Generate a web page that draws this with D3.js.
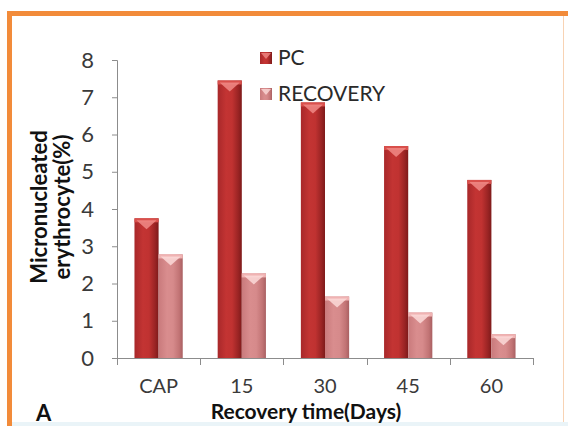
<!DOCTYPE html>
<html><head><meta charset="utf-8">
<script src="https://cdn.jsdelivr.net/npm/d3@7"></script>
<style>body{margin:0;background:#fff}svg{display:block}</style>
</head><body>
<script>
const categories = ["CAP", "15", "30", "45", "60"];
const seriesNames = ["PC", "RECOVERY"];
const pcValues = [3.75, 7.45, 6.86, 5.69, 4.78];
const recoveryValues = [2.78, 2.27, 1.65, 1.22, 0.64];
const yTicks = [0, 1, 2, 3, 4, 5, 6, 7, 8];

const W = 568, H = 426;
const svg = d3.select("body").append("svg").attr("width", W).attr("height", H);
const FONT = "Lato, 'Liberation Sans', sans-serif";

// frame
svg.append("rect").attr("x", 0).attr("y", 0).attr("width", W).attr("height", H).attr("fill", "#fff");
svg.append("rect").attr("x", 7).attr("y", 422).attr("width", W - 7).attr("height", 4).attr("fill", "#eaf4f8");
svg.append("rect").attr("x", 7).attr("y", 11).attr("width", W - 7).attr("height", 5).attr("fill", "#f28b3a");
svg.append("rect").attr("x", 7).attr("y", 11).attr("width", 5).attr("height", H - 11).attr("fill", "#f28b3a");
svg.append("line").attr("x1", 563.5).attr("x2", 563.5).attr("y1", 16).attr("y2", 422).attr("stroke", "#f8d3b4").attr("stroke-width", 1);

const x0 = d3.scaleBand().domain(categories).range([117, 533]).paddingInner(0.42).paddingOuter(0.21);
const x1 = d3.scaleBand().domain(seriesNames).range([0, x0.bandwidth()]);
const y = d3.scaleLinear().domain([0, 8]).range([358, 60]);

const defs = svg.append("defs");
function grad(id, stops) {
  const g = defs.append("linearGradient").attr("id", id).attr("x1", "0").attr("x2", "1").attr("y1", "0").attr("y2", "0");
  stops.forEach(s => g.append("stop").attr("offset", s[0]).attr("stop-color", s[1]));
}
grad("gPC", [[0, "#a8282a"], [0.35, "#c33433"], [0.6, "#c03231"], [0.85, "#9a2424"], [1, "#7e1a1a"]]);
grad("gRC", [[0, "#c97a7c"], [0.35, "#d98d8e"], [0.6, "#d68a8b"], [0.85, "#c27475"], [1, "#a96062"]]);
const colors = { PC: { fill: "url(#gPC)", cap: "#d9504c", tri: "#f08a86" },
                 RECOVERY: { fill: "url(#gRC)", cap: "#f0b3b3", tri: "#fbd9d8" } };

// axes
const gy = svg.append("g").attr("transform", "translate(117,0)")
  .call(d3.axisLeft(y).tickValues(yTicks).tickSize(5).tickPadding(18).tickFormat(d3.format("d")));
gy.select(".domain").attr("stroke", "#8c8c8c").attr("d", "M-5,358.5H0.5V60.5H-5");
gy.selectAll(".tick line").attr("stroke", "#8c8c8c");
gy.selectAll("text").attr("font-family", FONT).attr("font-size", 22).attr("fill", "#3a3a3a");

const gx = svg.append("g").attr("transform", "translate(0,358)");
gx.append("line").attr("x1", 117).attr("x2", 533).attr("y1", 0.5).attr("y2", 0.5).attr("stroke", "#8c8c8c");
const bounds = categories.map(c => x0(c) - x0.step() * x0.paddingInner() / 2).concat([533]);
gx.selectAll(".bt").data(bounds).join("line")
  .attr("x1", d => Math.round(d) + 0.5).attr("x2", d => Math.round(d) + 0.5)
  .attr("y1", 0).attr("y2", 7).attr("stroke", "#8c8c8c");
gx.selectAll(".xl").data(categories).join("text")
  .attr("x", d => x0(d) + x0.bandwidth() / 2).attr("y", 35)
  .attr("text-anchor", "middle").attr("font-family", FONT).attr("font-size", 20).attr("fill", "#3a3a3a")
  .text(d => d);

// bars
const rows = categories.map((c, i) => ({ c, vals: [{ s: "PC", v: pcValues[i] }, { s: "RECOVERY", v: recoveryValues[i] }] }));
const g = svg.append("g").selectAll("g").data(rows).join("g").attr("transform", d => `translate(${x0(d.c)},0)`);
const bar = g.selectAll("g").data(d => d.vals).join("g");
bar.append("rect")
  .attr("x", d => x1(d.s)).attr("width", x1.bandwidth())
  .attr("y", d => y(d.v)).attr("height", d => y(0) - y(d.v))
  .attr("fill", d => colors[d.s].fill);
bar.append("rect")
  .attr("x", d => x1(d.s)).attr("width", x1.bandwidth())
  .attr("y", d => y(d.v)).attr("height", 4)
  .attr("fill", d => colors[d.s].cap);
bar.append("path")
  .attr("d", d => {
    const xl = x1(d.s) + 2, xr = x1(d.s) + x1.bandwidth() - 2, yt = y(d.v) + 2;
    const xm = (xl + xr) / 2;
    return `M${xl},${yt}L${xr},${yt}L${xm},${yt + 9}Z`;
  })
  .attr("fill", d => colors[d.s].tri).attr("opacity", 0.85);

// legend
const leg = svg.append("g");
const legY = [58, 94];
seriesNames.forEach((s, i) => {
  leg.append("rect").attr("x", 260).attr("y", legY[i] - 6).attr("width", 12).attr("height", 12)
    .attr("fill", s === "PC" ? "url(#gPC)" : "url(#gRC)");
  leg.append("path").attr("d", `M261,${legY[i] - 5}L271,${legY[i] - 5}L266,${legY[i] + 1}Z`)
    .attr("fill", colors[s].tri).attr("opacity", 0.8);
  leg.append("text").attr("x", 278).attr("y", legY[i] + 7)
    .attr("font-family", FONT).attr("font-size", 21).attr("fill", "#2a2a2a").text(s);
});

// axis titles
svg.append("text").attr("transform", "translate(47,207) rotate(-90)")
  .attr("text-anchor", "middle").attr("font-family", FONT).attr("font-weight", "bold")
  .attr("font-size", 22).attr("fill", "#111").text("Micronucleated");
svg.append("text").attr("transform", "translate(70,207) rotate(-90)")
  .attr("text-anchor", "middle").attr("font-family", FONT).attr("font-weight", "bold")
  .attr("font-size", 22).attr("fill", "#111").text("erythrocyte(%)");
svg.append("text").attr("x", 306).attr("y", 419)
  .attr("text-anchor", "middle").attr("font-family", FONT).attr("font-weight", "bold")
  .attr("font-size", 21).attr("fill", "#111").text("Recovery time(Days)");
svg.append("text").attr("x", 36).attr("y", 421)
  .attr("font-family", FONT).attr("font-weight", "bold")
  .attr("font-size", 22).attr("fill", "#111").text("A");
</script>
</body></html>
